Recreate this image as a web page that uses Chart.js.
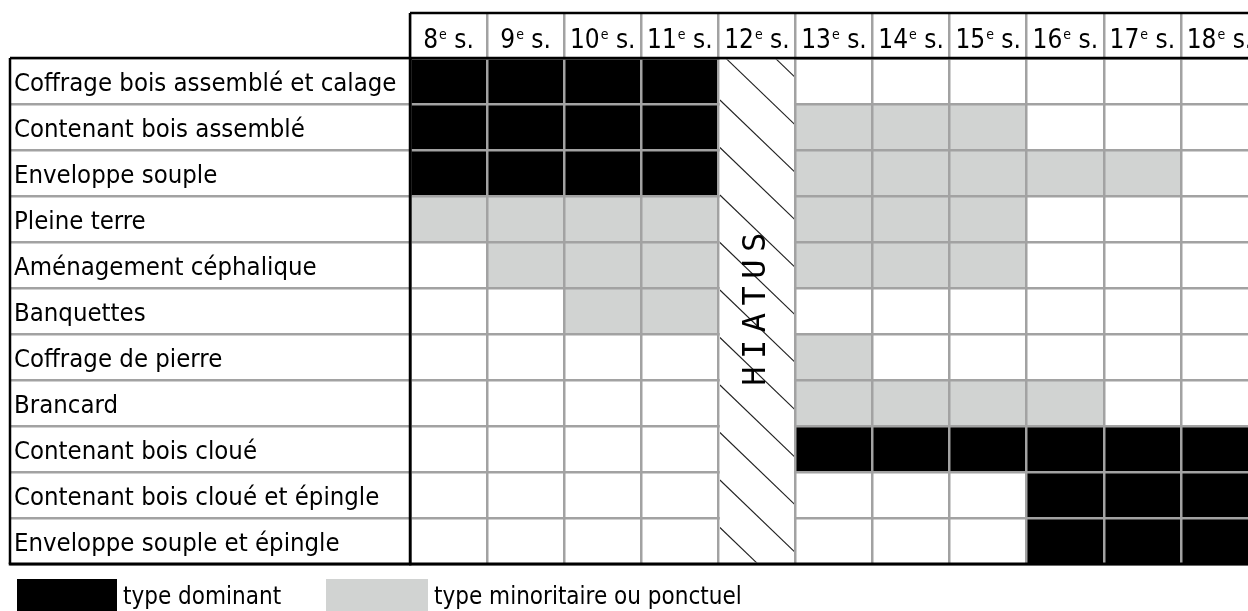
<!DOCTYPE html>
<html>
<head>
<meta charset="utf-8">
<script src="https://cdn.jsdelivr.net/npm/chart.js@4/dist/chart.umd.min.js"></script>
<style>
  html, body { margin: 0; padding: 0; background: #fff; }
  #wrap { width: 1248px; height: 611px; }
</style>
</head>
<body>
<div id="wrap"><canvas id="tableau"></canvas></div>
<script>
// === DONNÉES ===
const siecles = ['8', '9', '10', '11', '12', '13', '14', '15', '16', '17', '18'];
const colonneHiatus = 4; // 12e s.
const typesInhumation = [
  'Coffrage bois assemblé et calage',
  'Contenant bois assemblé',
  'Enveloppe souple',
  'Pleine terre',
  'Aménagement céphalique',
  'Banquettes',
  'Coffrage de pierre',
  'Brancard',
  'Contenant bois cloué',
  'Contenant bois cloué et épingle',
  'Enveloppe souple et épingle'
];
// 2 = type dominant, 1 = type minoritaire ou ponctuel, 0 = absent (colonne 12e s. = hiatus)
const presence = [
  [2, 2, 2, 2, 0, 0, 0, 0, 0, 0, 0],
  [2, 2, 2, 2, 0, 1, 1, 1, 0, 0, 0],
  [2, 2, 2, 2, 0, 1, 1, 1, 1, 1, 0],
  [1, 1, 1, 1, 0, 1, 1, 1, 0, 0, 0],
  [0, 1, 1, 1, 0, 1, 1, 1, 0, 0, 0],
  [0, 0, 1, 1, 0, 0, 0, 0, 0, 0, 0],
  [0, 0, 0, 0, 0, 1, 0, 0, 0, 0, 0],
  [0, 0, 0, 0, 0, 1, 1, 1, 1, 0, 0],
  [0, 0, 0, 0, 0, 2, 2, 2, 2, 2, 2],
  [0, 0, 0, 0, 0, 0, 0, 0, 2, 2, 2],
  [0, 0, 0, 0, 0, 0, 0, 0, 2, 2, 2]
];
const legendeTextes = ['type dominant', 'type minoritaire ou ponctuel'];
const couleurs = ['#ffffff', '#d1d3d2', '#000000'];
const GRIS_GRILLE = '#a2a2a2';
const POLICE = '"DejaVu Sans Condensed", "DejaVu Sans", sans-serif';

// === DATASETS : une série par siècle ===
const datasets = siecles.map((s, c) => ({
  label: s + 'e s.',
  data: typesInhumation.map((t, i) => (c !== colonneHiatus && presence[i][c] > 0) ? [c, c + 1] : null),
  backgroundColor: typesInhumation.map((t, i) => couleurs[presence[i][c]]),
  borderWidth: 0,
  grouped: false,
  barPercentage: 1,
  categoryPercentage: 1
}));

// === DÉCOR : en-têtes, hiatus, cadre, légende ===
const decorPlugin = {
  id: 'decor',
  afterDraw(chart) {
    const ctx = chart.ctx;
    const xs = chart.scales.x;
    const area = chart.chartArea;
    const gauche = 10;
    const hautEntete = 13;
    ctx.save();

    // colonne hiatus
    const hx1 = xs.getPixelForValue(colonneHiatus) + 1.5;
    const hx2 = xs.getPixelForValue(colonneHiatus + 1) - 1.5;
    ctx.fillStyle = '#fff';
    ctx.fillRect(hx1, area.top + 1.5, hx2 - hx1, area.bottom - area.top - 3);
    ctx.save();
    ctx.beginPath();
    ctx.rect(hx1, area.top + 1.5, hx2 - hx1, area.bottom - area.top - 3);
    ctx.clip();
    ctx.strokeStyle = '#222';
    ctx.lineWidth = 1.1;
    const pente = 0.96, pas = 47.5;
    for (let y0 = area.top + 42 - 3 * pas; y0 < area.bottom + 10; y0 += pas) {
      ctx.beginPath();
      ctx.moveTo(hx1, y0);
      ctx.lineTo(hx2 + 5, y0 + pente * (hx2 + 5 - hx1));
      ctx.stroke();
    }
    ctx.restore();
    ctx.save();
    ctx.translate((hx1 + hx2) / 2, (area.top + area.bottom) / 2 - 2);
    ctx.rotate(-Math.PI / 2);
    ctx.font = '32px "DejaVu Sans Mono", monospace';
    ctx.letterSpacing = '7.5px';
    ctx.fillStyle = '#000';
    ctx.textAlign = 'center';
    ctx.textBaseline = 'middle';
    ctx.fillText('HIATUS', 3.5, 0);
    ctx.restore();

    // en-têtes des siècles
    ctx.fillStyle = '#000';
    ctx.textBaseline = 'alphabetic';
    siecles.forEach((s, c) => {
      const cx = xs.getPixelForValue(c + 0.5);
      ctx.font = '26px ' + POLICE;
      const w1 = ctx.measureText(s).width;
      const w3 = ctx.measureText(' s.').width;
      ctx.font = '14px ' + POLICE;
      const w2 = ctx.measureText('e').width;
      let x = cx - (w1 + w2 + w3 + 1) / 2;
      ctx.textAlign = 'left';
      ctx.font = '26px ' + POLICE;
      ctx.fillText(s, x, 48);
      ctx.font = '14px ' + POLICE;
      ctx.fillText('e', x + w1 + 1, 39);
      ctx.font = '26px ' + POLICE;
      ctx.fillText(' s.', x + w1 + w2 + 1, 48);
    });

    // cadre noir
    ctx.strokeStyle = '#000';
    ctx.lineWidth = 2.5;
    ctx.beginPath();
    ctx.moveTo(area.left, hautEntete);
    ctx.lineTo(chart.width, hautEntete);
    ctx.moveTo(area.left, hautEntete);
    ctx.lineTo(area.left, area.bottom);
    ctx.moveTo(gauche, area.top);
    ctx.lineTo(chart.width, area.top);
    ctx.moveTo(gauche, area.top);
    ctx.lineTo(gauche, area.bottom);
    ctx.stroke();
    ctx.lineWidth = 3;
    ctx.beginPath();
    ctx.moveTo(gauche - 1.25, area.bottom);
    ctx.lineTo(chart.width, area.bottom);
    ctx.stroke();

    // légende
    const yLeg = 579;
    ctx.fillStyle = couleurs[2];
    ctx.fillRect(17, yLeg, 100, 40);
    ctx.fillStyle = couleurs[1];
    ctx.fillRect(326, yLeg, 102, 40);
    ctx.fillStyle = '#000';
    ctx.font = '24px ' + POLICE;
    ctx.textAlign = 'left';
    ctx.fillText(legendeTextes[0], 123, 604);
    ctx.fillText(legendeTextes[1], 434, 604);
    ctx.restore();
  }
};

new Chart(document.getElementById('tableau'), {
  type: 'bar',
  data: { labels: typesInhumation, datasets },
  options: {
    indexAxis: 'y',
    responsive: true,
    maintainAspectRatio: false,
    animation: false,
    layout: { padding: { top: 13, left: 14, right: 0, bottom: 47 } },
    plugins: { legend: { display: false }, tooltip: { enabled: false } },
    scales: {
      x: {
        type: 'linear',
        position: 'top',
        min: 0,
        max: 10.87,
        z: 1,
        afterFit: (scale) => { scale.height = 45; },
        ticks: { display: false, stepSize: 1, includeBounds: false },
        grid: { z: 1, color: GRIS_GRILLE, lineWidth: 2.5, drawTicks: true, tickLength: 45 },
        border: { z: 1, color: '#000', width: 2.5 }
      },
      y: {
        type: 'category',
        offset: true,
        z: 1,
        afterFit: (scale) => { scale.width = 396; },
        ticks: { crossAlign: 'far', autoSkip: false, labelOffset: 3, color: '#000', font: { family: POLICE, size: 25.5 } },
        grid: { z: 1, color: GRIS_GRILLE, lineWidth: 2.5, offset: true, drawTicks: true, tickLength: 400 },
        border: { z: 1, color: '#000', width: 2.5 }
      }
    }
  },
  plugins: [decorPlugin]
});
</script>
</body>
</html>
